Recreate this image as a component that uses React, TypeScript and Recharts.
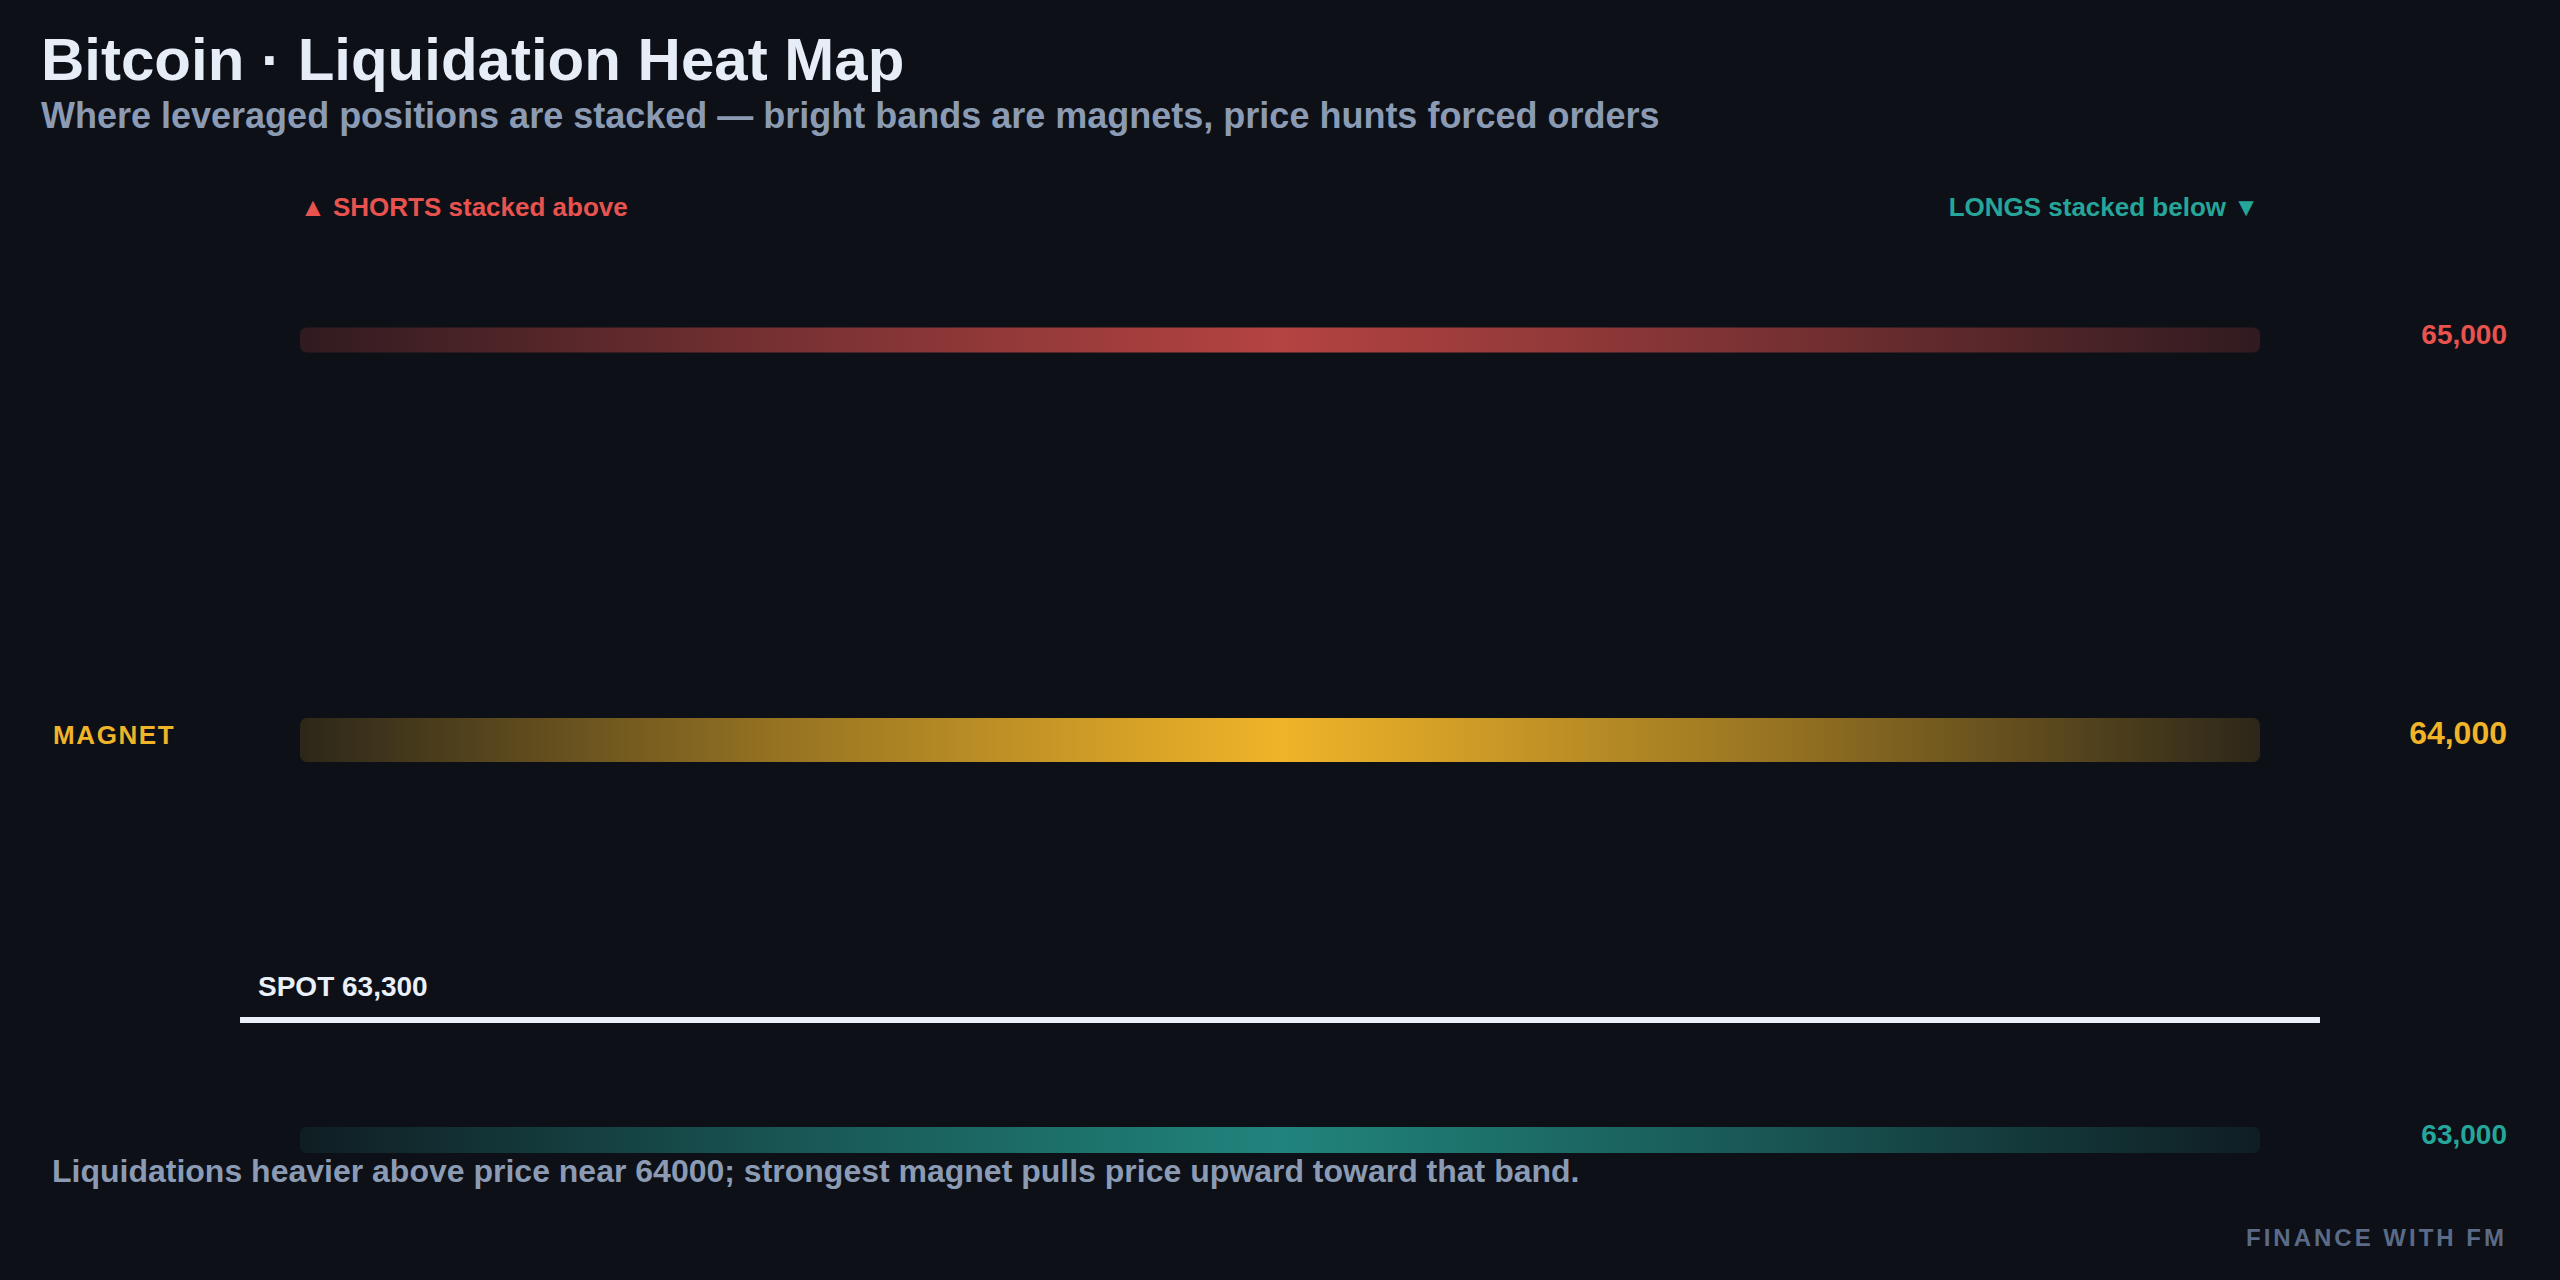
import { ComposedChart, XAxis, YAxis, ReferenceArea, ReferenceLine, Rectangle } from "recharts";

// liquidation clusters (price level, which side, relative size)
const LEVELS = [65000, 64000, 63000];
const SIDES = ["shorts", "magnet", "longs"];
const INTENSITY = [0.57, 1.0, 0.59];
const SPOT = 63300;
const Y_DOMAIN = [62700, 65500];

const BG = "#0d1017";
const FONT = "'Liberation Sans', Arial, sans-serif";
const COLORS: Record<string, string> = {
  shorts: "#e8534f",
  magnet: "#f0b429",
  longs: "#26a69a",
};
const EDGE_OPACITY: Record<string, number> = { shorts: 0.16, magnet: 0.14, longs: 0.09 };

const W = 2560;
const H = 1280;

const bands = LEVELS.map((price, i) => ({
  price,
  side: SIDES[i],
  intensity: INTENSITY[i],
}));

const fmt = (v: number) => v.toLocaleString("en-US");

export default function App() {
  return (
    <div style={{ position: "relative", width: W, height: H, background: BG, fontFamily: FONT }}>
      <style>{`body{margin:0;background:${BG}}`}</style>
      <ComposedChart
        width={W}
        height={H}
        data={bands}
        margin={{ top: 140, right: 300, bottom: 20, left: 300 }}
      >
        <defs>
          {bands.map((b) => {
            const peak = 0.45 + 0.55 * b.intensity;
            const edge = EDGE_OPACITY[b.side];
            const mid = edge + (peak - edge) * 0.55;
            return (
              <linearGradient key={b.side} id={`band-${b.side}`} x1="0" y1="0" x2="1" y2="0">
                <stop offset="0%" stopColor={COLORS[b.side]} stopOpacity={edge} />
                <stop offset="25%" stopColor={COLORS[b.side]} stopOpacity={mid} />
                <stop offset="50%" stopColor={COLORS[b.side]} stopOpacity={peak} />
                <stop offset="75%" stopColor={COLORS[b.side]} stopOpacity={mid} />
                <stop offset="100%" stopColor={COLORS[b.side]} stopOpacity={edge} />
              </linearGradient>
            );
          })}
        </defs>
        <XAxis type="number" dataKey="intensity" domain={[0, 100]} hide allowDataOverflow />
        <YAxis type="number" dataKey="price" domain={Y_DOMAIN} hide allowDataOverflow />

        {bands.map((b) => {
          const half = b.intensity * 55;
          const isMagnet = b.side === "magnet";
          return (
            <ReferenceArea
              key={b.side}
              y1={b.price - half}
              y2={b.price + half}
              fill={`url(#band-${b.side})`}
              fillOpacity={1}
              stroke="none"
              ifOverflow="visible"
              shape={(p: any) => <Rectangle {...p} radius={7} />}
              label={(lp: any) => {
                const vb = lp.viewBox;
                const cy = vb.y + vb.height / 2;
                return (
                  <g>
                    <text
                      x={vb.x + vb.width + 247}
                      y={cy + 4}
                      textAnchor="end"
                      fill={COLORS[b.side]}
                      fontSize={isMagnet ? 32 : 28}
                      fontWeight={700}
                      fontFamily={FONT}
                    >
                      {fmt(b.price)}
                    </text>
                    {isMagnet && (
                      <text
                        x={vb.x - 247}
                        y={cy + 4}
                        fill={COLORS.magnet}
                        fontSize={26}
                        fontWeight={700}
                        letterSpacing={1.6}
                        fontFamily={FONT}
                      >
                        MAGNET
                      </text>
                    )}
                  </g>
                );
              }}
            />
          );
        })}

        <ReferenceLine
          segment={[
            { x: -3.06, y: SPOT },
            { x: 103.06, y: SPOT },
          ]}
          stroke="#eaf0f9"
          strokeWidth={6}
          ifOverflow="visible"
          label={(lp: any) => (
            <text
              x={lp.viewBox.x + 18}
              y={lp.viewBox.y - 24}
              fill="#eaf0f9"
              fontSize={28}
              fontWeight={700}
              fontFamily={FONT}
            >
              SPOT {fmt(SPOT)}
            </text>
          )}
        />
      </ComposedChart>

      <svg
        width={W}
        height={H}
        style={{ position: "absolute", left: 0, top: 0, pointerEvents: "none" }}
        fontFamily={FONT}
      >
        <text x={41} y={80} fill="#e6edf7" fontSize={60} fontWeight={700}>
          Bitcoin · Liquidation Heat Map
        </text>
        <text x={41} y={128} fill="#8b9bb4" fontSize={36} fontWeight={700}>
          Where leveraged positions are stacked — bright bands are magnets, price hunts forced orders
        </text>
        <text x={300} y={216} fill={COLORS.shorts} fontSize={26} fontWeight={700}>
          ▲ SHORTS stacked above
        </text>
        <text x={2259} y={216} fill={COLORS.longs} fontSize={26} fontWeight={700} textAnchor="end">
          LONGS stacked below ▼
        </text>
        <text x={52} y={1182} fill="#8b9bb4" fontSize={32} fontWeight={700}>
          Liquidations heavier above price near 64000; strongest magnet pulls price upward toward that band.
        </text>
        <text x={2507} y={1246} fill="#5b6b87" fontSize={24} fontWeight={700} letterSpacing={3} textAnchor="end">
          FINANCE WITH FM
        </text>
      </svg>
    </div>
  );
}
